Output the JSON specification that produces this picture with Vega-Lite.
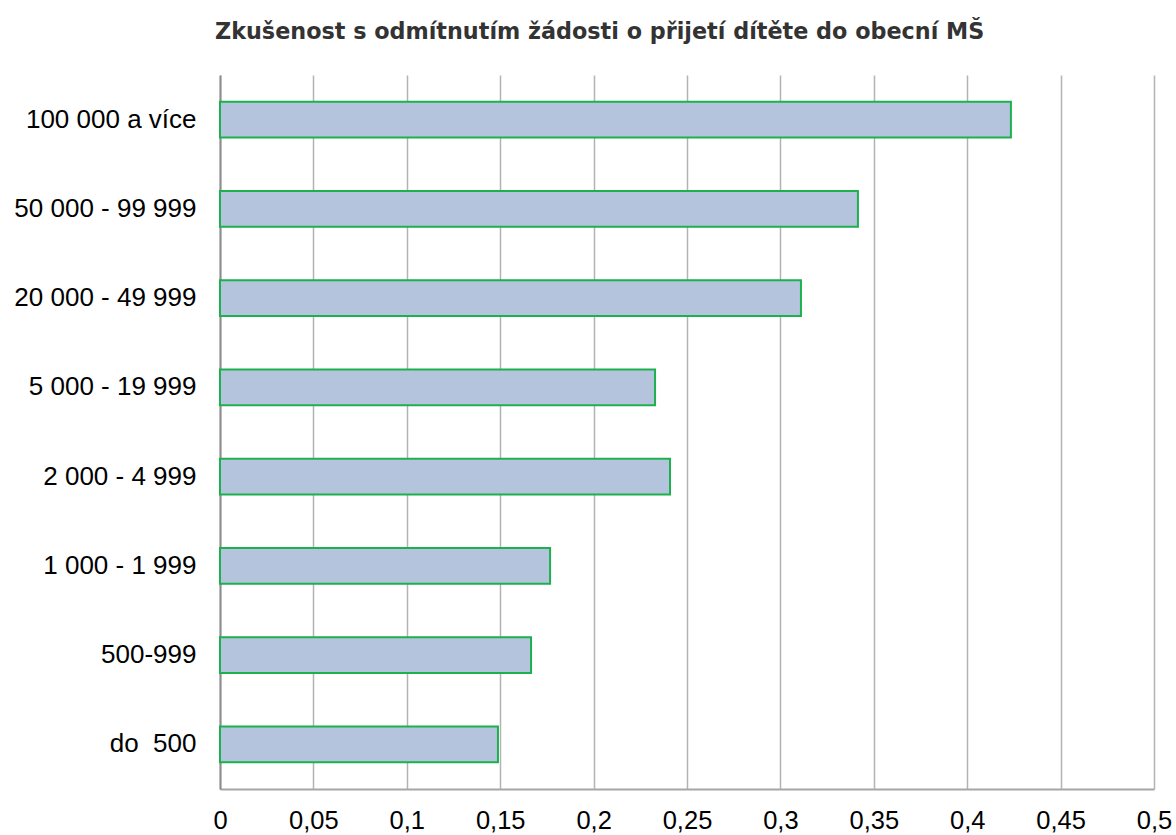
{
  "$schema": "https://vega.github.io/schema/vega-lite/v6.json",
  "width": 934,
  "height": 714,
  "autosize": {"type": "none"},
  "padding": {"left": 220, "top": 75, "right": 22, "bottom": 46},
  "background": "white",
  "title": {
    "text": "Zkušenost s odmítnutím žádosti o přijetí dítěte do obecní MŠ",
    "anchor": "start",
    "frame": "group",
    "offset": 32,
    "dx": -5,
    "fontSize": 22.3,
    "font": "DejaVu Sans",
    "fontWeight": "bold",
    "color": "#333333"
  },
  "config": {
    "view": {"stroke": null},
    "axis": {"labelFont": "Liberation Sans", "labelColor": "#000000", "labelLimit": 400}
  },
  "data": {
    "values": [
      {"kategorie": "100 000 a více", "podil": 0.4234},
      {"kategorie": "50 000 - 99 999", "podil": 0.3415},
      {"kategorie": "20 000 - 49 999", "podil": 0.311},
      {"kategorie": "5 000 - 19 999", "podil": 0.2329},
      {"kategorie": "2 000 - 4 999", "podil": 0.2409},
      {"kategorie": "1 000 - 1 999", "podil": 0.1767},
      {"kategorie": "500-999", "podil": 0.1665},
      {"kategorie": "do\u00a0 500", "podil": 0.1488}
    ]
  },
  "mark": {"type": "bar", "fill": "#b4c4dc", "stroke": "#1cb04f", "strokeWidth": 2},
  "encoding": {
    "y": {
      "field": "kategorie",
      "type": "nominal",
      "sort": null,
      "scale": {"paddingInner": 0.6, "paddingOuter": 0.3},
      "axis": {
        "title": null,
        "ticks": false,
        "labelFontSize": 26,
        "labelPadding": 24,
        "domainColor": "#8c8c8c",
        "domainWidth": 2,
        "grid": false
      }
    },
    "x": {
      "field": "podil",
      "type": "quantitative",
      "scale": {"domain": [0, 0.5], "nice": false},
      "axis": {
        "title": null,
        "values": [0, 0.05, 0.1, 0.15, 0.2, 0.25, 0.3, 0.35, 0.4, 0.45, 0.5],
        "labelExpr": "replace(toString(datum.value), '.', ',')",
        "ticks": false,
        "labelFontSize": 25.5,
        "labelPadding": 19,
        "labelFlush": false,
        "domainColor": "#a6a6a6",
        "domainWidth": 2,
        "grid": true,
        "gridColor": "#b3b3b3",
        "gridWidth": 1.5
      }
    }
  }
}
